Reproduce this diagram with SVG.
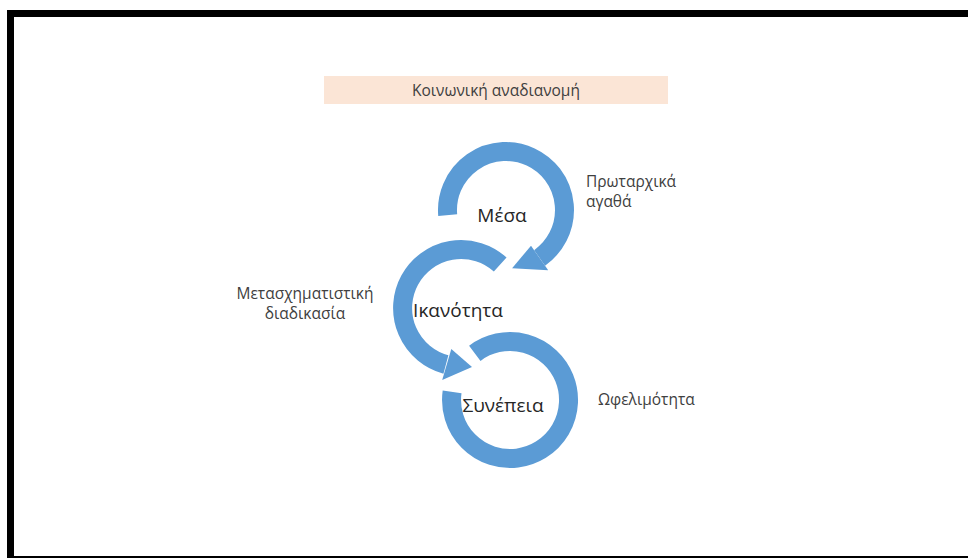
<svg xmlns="http://www.w3.org/2000/svg" width="968" height="560" viewBox="0 0 968 560">
<style>
.arc{fill:none;stroke:#5B9BD5;stroke-width:19;stroke-linecap:butt}
.head{fill:#5B9BD5}
.lbl{font-family:"Open Sans","Liberation Sans",sans-serif;font-size:15.5px;fill:#404040}
.big{font-family:"Open Sans","Liberation Sans",sans-serif;font-size:19px;fill:#262626;text-anchor:middle}
</style>
<rect width="968" height="560" fill="#ffffff"/>
<g id="frame">
<rect x="7" y="10" width="961" height="7" fill="#000"/>
<rect x="7" y="10" width="7" height="548" fill="#000"/>
<rect x="14" y="556" width="954" height="2" fill="#000"/>
</g>
<g id="title">
<rect x="324" y="76" width="344" height="28" fill="#FBE5D6"/>
<text class="lbl" x="496" y="96" text-anchor="middle">Κοινωνική αναδιανομή</text>
</g>
<g id="connectors">
<g id="synepeia-ring">
<path class="arc" d="M474.8,353.3 A58.5,58.5 0 1 1 452.1,391.9"/>
</g>
<g id="ikanotita-ring">
<path class="arc" d="M500.2,264.5 A58.5,58.5 0 1 0 445.9,364.5"/>
<polygon class="head" points="451.3,349.0 472.0,367.0 442.2,380.0"/>
</g>
<g id="mesa-ring">
<path class="arc" d="M447.7,215.1 A58.5,58.5 0 1 1 539.6,257.9"/>
<polygon class="head" points="531.0,245.7 512.1,268.2 548.2,270.3"/>
</g>
</g>
<g id="node-mesa"><text class="big" x="502" y="222">Μέσα</text></g>
<g id="node-ikanotita"><text class="big" x="458" y="317">Ικανότητα</text></g>
<g id="node-synepeia"><text class="big" x="503" y="412">Συνέπεια</text></g>
<g id="label-protarxika">
<text class="lbl" x="586" y="187">Πρωταρχικά</text>
<text class="lbl" x="586" y="207">αγαθά</text>
</g>
<g id="label-metasx">
<text class="lbl" x="305" y="299" text-anchor="middle">Μετασχηματιστική</text>
<text class="lbl" x="305" y="319" text-anchor="middle">διαδικασία</text>
</g>
<g id="label-ofelimotita"><text class="lbl" x="598" y="405">Ωφελιμότητα</text></g>
</svg>
